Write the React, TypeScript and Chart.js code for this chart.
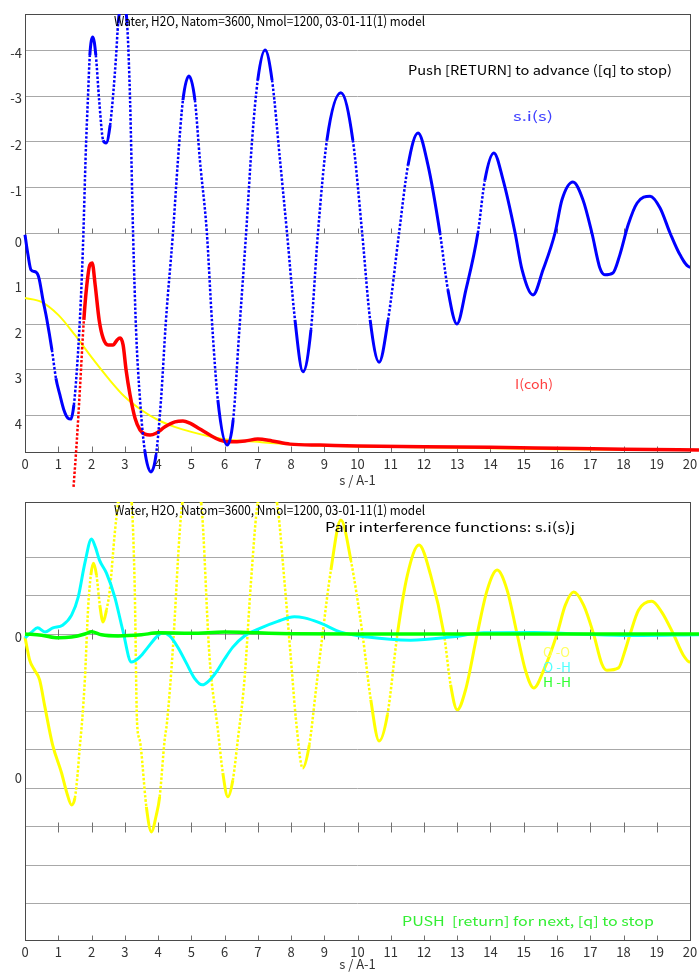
import React, { useEffect, useRef } from 'react';
import { Chart, registerables } from 'chart.js';

Chart.register(...registerables);

const FONT = '"Noto Sans CJK JP", "DejaVu Sans", sans-serif';

// ---------- top panel: s.i(s) and I(coh) ----------
const siS = [0, 0.09, 0.18, 0.33, 0.42, 0.54, 0.66, 0.81, 0.93, 1.05, 1.17, 1.29, 1.38, 1.47, 1.56, 1.65, 1.74, 1.83, 1.89, 1.95, 2.04, 2.13, 2.23, 2.35, 2.44, 2.56, 2.65, 2.74, 2.8, 2.93, 3.07, 3.16, 3.25, 3.34, 3.46, 3.6, 3.79, 3.94, 4.09, 4.24, 4.45, 4.6, 4.75, 4.93, 5.11, 5.26, 5.47, 5.62, 5.8, 6.08, 6.26, 6.44, 6.65, 6.83, 7.0, 7.22, 7.43, 7.67, 7.88, 8.12, 8.36, 8.6, 8.81, 9.08, 9.5, 9.86, 10.14, 10.38, 10.65, 10.92, 11.25, 11.52, 11.82, 12.12, 12.48, 12.72, 12.99, 13.26, 13.62, 13.83, 14.1, 14.38, 14.74, 14.95, 15.28, 15.58, 15.94, 16.15, 16.48, 16.78, 17.05, 17.29, 17.44, 17.68, 17.89, 18.14, 18.41, 18.8, 19.1, 19.4, 19.7, 20.0, 20.15, 20.27];
const siV = [-0.04, -0.48, -0.81, -0.86, -0.99, -1.47, -1.91, -2.57, -3.19, -3.56, -3.89, -4.07, -4.09, -3.78, -3.01, -1.91, -0.37, 1.82, 2.92, 3.91, 4.31, 3.91, 2.92, 2.04, 1.98, 2.37, 3.03, 3.9, 4.6, 5.1, 4.6, 2.92, 0, -2.13, -3.67, -4.77, -5.25, -4.88, -3.67, -1.91, 0, 1.6, 2.92, 3.45, 2.92, 1.6, 0, -1.91, -3.67, -4.66, -4.11, -2.2, 0, 2.04, 3.36, 4.02, 3.36, 1.6, 0, -1.91, -3.05, -2.13, 0, 2.04, 3.08, 2.04, 0, -1.91, -2.84, -1.91, 0, 1.49, 2.2, 1.49, 0, -1.25, -2.0, -1.25, 0, 1.16, 1.76, 1.16, 0, -0.81, -1.36, -0.81, 0, 0.73, 1.12, 0.73, 0, -0.77, -0.92, -0.88, -0.48, 0.18, 0.66, 0.81, 0.55, 0, -0.48, -0.75, -0.7, -0.44];

const cohS = [1.46, 1.56, 1.65, 1.77, 1.86, 1.95, 2.02, 2.11, 2.23, 2.35, 2.5, 2.65, 2.77, 2.86, 2.95, 3.04, 3.16, 3.31, 3.46, 3.61, 3.76, 3.94, 4.21, 4.51, 4.75, 4.96, 5.26, 5.56, 5.86, 6.17, 6.62, 7.0, 7.43, 7.97, 8.87, 10, 12, 14, 16, 18, 20.27];
const cohV = [-5.58, -4.55, -3.45, -1.91, -1.14, -0.7, -0.66, -1.14, -1.91, -2.31, -2.46, -2.46, -2.35, -2.31, -2.46, -3.01, -3.56, -4.07, -4.33, -4.42, -4.44, -4.4, -4.26, -4.15, -4.13, -4.18, -4.31, -4.44, -4.55, -4.59, -4.57, -4.53, -4.57, -4.64, -4.66, -4.68, -4.7, -4.71, -4.73, -4.75, -4.77];

const selfS = [0, 0.5, 1, 1.5, 2, 2.5, 3, 3.5, 4, 4.5, 5, 5.5, 6, 7, 8, 10, 12, 14, 16, 18, 20.27];
const selfV = [-1.43, -1.52, -1.8, -2.24, -2.73, -3.19, -3.6, -3.89, -4.11, -4.26, -4.37, -4.46, -4.53, -4.59, -4.64, -4.69, -4.71, -4.73, -4.75, -4.76, -4.77];

const topYTickValues = [-4, -3, -2, -1, 0, 1, 2, 3, 4];
const topYLabelValues = [4, 3, 2, 1, 0, -1, -2, -3, -4];
const topYLabels = ['-4', '-3', '-2', '-1', '0', '1', '2', '3', '4'];

// ---------- bottom panel: pair interference functions ----------
const ooS = [0, 0.14, 0.29, 0.44, 0.6, 0.83, 1.1, 1.25, 1.4, 1.5, 1.58, 1.64, 1.72, 1.8, 1.9, 1.98, 2.06, 2.15, 2.25, 2.35, 2.45, 2.55, 2.7, 2.8, 3.0, 3.21, 3.3, 3.37, 3.45, 3.65, 3.8, 3.95, 4.05, 4.2, 4.27, 4.45, 4.65, 4.73, 5.0, 5.3, 5.55, 5.8, 5.95, 6.1, 6.25, 6.4, 6.6, 6.8, 7.0, 7.3, 7.58, 7.8, 8.0, 8.15, 8.35, 8.55, 8.75, 8.95, 9.2, 9.5, 9.8, 10.15, 10.4, 10.65, 10.9, 11.2, 11.5, 11.85, 12.2, 12.6, 12.8, 13.0, 13.25, 13.6, 13.9, 14.2, 14.5, 14.8, 15.05, 15.3, 15.6, 16.0, 16.25, 16.5, 16.8, 17.1, 17.35, 17.5, 17.85, 18.05, 18.2, 18.45, 18.85, 19.15, 19.5, 19.8, 20.0, 20.15, 20.27];
const ooV = [-0.08, -0.68, -0.94, -1.19, -1.9, -2.88, -3.61, -4.1, -4.44, -4.26, -3.66, -3.01, -2.23, -1.19, 0.7, 1.53, 1.84, 1.53, 0.75, 0.31, 0.62, 1.14, 2.62, 3.4, 4.3, 3.4, 1.2, -2.3, -2.75, -4.49, -5.14, -4.7, -4.23, -2.75, -2.3, -0.34, 2.62, 3.4, 4.2, 3.4, -0.6, -2.49, -3.61, -4.23, -3.8, -2.75, -1.19, 1.4, 3.4, 3.9, 3.4, 1.4, -0.68, -2.23, -3.48, -2.88, -1.45, 0, 1.66, 2.96, 1.92, 0, -1.71, -2.78, -2.1, 0, 1.53, 2.31, 1.53, 0, -1.32, -1.97, -1.45, 0, 1.14, 1.66, 1.14, 0, -0.94, -1.4, -0.94, 0, 0.75, 1.09, 0.75, 0, -0.78, -0.94, -0.88, -0.42, 0, 0.62, 0.85, 0.57, 0, -0.55, -0.73, -0.68, -0.47];

const ohS = [0, 0.2, 0.38, 0.6, 0.84, 1.13, 1.4, 1.6, 1.8, 2.0, 2.12, 2.24, 2.45, 2.7, 2.94, 3.2, 3.45, 3.7, 3.95, 4.15, 4.35, 4.6, 4.85, 5.1, 5.33, 5.55, 5.75, 6.0, 6.25, 6.6, 7.1, 7.6, 8.1, 8.4, 8.87, 9.5, 10.3, 11.6, 12.8, 13.8, 15.3, 16.6, 18.3, 20.27];
const ohV = [-0.1, 0.05, 0.16, 0.05, 0.16, 0.23, 0.49, 0.96, 1.84, 2.47, 2.25, 1.92, 1.58, 0.96, 0.1, -0.73, -0.6, -0.34, -0.08, 0.03, -0.05, -0.35, -0.75, -1.15, -1.32, -1.2, -0.99, -0.65, -0.34, -0.05, 0.16, 0.33, 0.45, 0.42, 0.29, 0.05, -0.08, -0.16, -0.08, 0.03, 0.04, 0, -0.04, -0.02];

const hhS = [0, 0.5, 1.0, 1.4, 1.8, 2.0, 2.3, 2.8, 3.5, 4.0, 5.0, 6.0, 7.0, 8.0, 10, 20.27];
const hhV = [0, -0.03, -0.1, -0.08, 0, 0.06, -0.02, -0.05, -0.02, 0.03, 0.02, 0.05, 0.03, 0.01, 0, 0];

const botYTickValues = [-7, -6, -5, -4, -3, -2, -1, 0, 1, 2];
const botYLabelValues = [0, -4];
const botYLabels = ['0', '0'];

const S_MIN = 0;
const S_MAX = 20;

function lineSet(xs: number[], ys: number[], color: string, width: number, steepRatio: number) {
  const isSteep = (c: any) => Math.abs(c.p1.y - c.p0.y) > steepRatio * Math.abs(c.p1.x - c.p0.x);
  return {
    data: xs.map((x, i) => ({ x, y: ys[i] })),
    borderColor: color,
    backgroundColor: color,
    borderWidth: width,
    pointRadius: 0,
    fill: false,
    cubicInterpolationMode: 'monotone',
    clip: { left: false, top: 0, right: false, bottom: false },
    segment: {
      borderDash: (c: any) => (isSteep(c) ? [2.5, 1.8] : undefined),
      borderWidth: (c: any) => (isSteep(c) ? 2.5 : undefined),
    },
  };
}

function drawFit(ctx: CanvasRenderingContext2D, text: string, x: number, y: number, w: number, color: string, size = 13) {
  ctx.save();
  ctx.font = `${size}px ${FONT}`;
  const m = ctx.measureText(text).width;
  ctx.translate(x, y);
  ctx.scale(w / m, 1);
  ctx.fillStyle = color;
  ctx.textAlign = 'left';
  ctx.textBaseline = 'middle';
  ctx.fillText(text, 0, 0);
  ctx.restore();
}

const overlay = {
  id: 'overlay',
  beforeDatasetsDraw(chart: any, _args: any, opts: any) {
    const { ctx, chartArea: a, scales } = chart;
    const x = scales.x, y = scales.y;
    ctx.save();
    ctx.beginPath();
    ctx.strokeStyle = '#707070';
    ctx.lineWidth = 1;
    for (const tl of opts.tickLines) {
      const py = Math.round(y.getPixelForValue(tl.v)) + 0.5;
      for (let s = 1; s < 20; s++) {
        const px = Math.round(x.getPixelForValue(s)) + 0.5;
        ctx.moveTo(px, py - tl.up);
        ctx.lineTo(px, py + tl.down);
      }
    }
    ctx.stroke();
    ctx.strokeStyle = '#4a4a4a';
    ctx.strokeRect(Math.round(a.left) + 0.5, Math.round(a.top) + 0.5, Math.round(a.right - a.left), Math.round(a.bottom - a.top));
    ctx.restore();
  },
  afterDatasetsDraw(chart: any, _args: any, opts: any) {
    const { ctx, chartArea: a, scales } = chart;
    const y = scales.y;
    ctx.save();
    ctx.font = `13px ${FONT}`;
    ctx.fillStyle = '#333';
    ctx.textAlign = 'right';
    ctx.textBaseline = 'middle';
    opts.yLabels.forEach((t: string, i: number) => {
      ctx.fillText(t, a.left - 3, y.getPixelForValue(opts.yValues[i]) + opts.yOffsets[i]);
    });
    ctx.restore();
    for (const t of opts.texts) drawFit(ctx, t.t, t.x, t.y, t.w, t.c);
  },
};

function makeOptions(yMin: number, yMax: number, yTicks: number[], padTop: number, xHeight: number, titlePad: number, ov: any) {
  return {
    animation: false,
    responsive: false,
    maintainAspectRatio: false,
    layout: { padding: { top: padTop, right: 9, left: 0, bottom: 0 } },
    plugins: { legend: { display: false }, tooltip: { enabled: false }, overlay: ov },
    scales: {
      x: {
        type: 'linear',
        min: S_MIN,
        max: S_MAX,
        afterFit: (s: any) => { s.height = xHeight; },
        grid: { display: false },
        border: { display: false },
        ticks: { stepSize: 1, autoSkip: false, maxRotation: 0, padding: -4, color: '#333', font: { family: FONT, size: 13 } },
        title: { display: true, text: 's / A-1', color: '#333', font: { family: FONT, size: 13 }, padding: { top: 0, bottom: titlePad } },
      },
      y: {
        type: 'linear',
        min: yMin,
        max: yMax,
        afterFit: (s: any) => { s.width = 25; },
        afterBuildTicks: (s: any) => { s.ticks = yTicks.map((v) => ({ value: v })); },
        ticks: { display: false },
        grid: { color: '#a8a8a8', drawTicks: false, lineWidth: 1 },
        border: { display: false },
      },
    },
  };
}

export default function App() {
  const topRef = useRef<HTMLCanvasElement>(null);
  const botRef = useRef<HTMLCanvasElement>(null);

  useEffect(() => {
    const top = new Chart(topRef.current as HTMLCanvasElement, {
      type: 'line',
      data: {
        datasets: [
          lineSet(siS, siV, '#0000ff', 3, 7),
          lineSet(cohS, cohV, '#ff0000', 3.5, 12),
          lineSet(selfS, selfV, '#ffff00', 2, 12),
        ],
      },
      options: makeOptions(-4.813, 4.813, topYTickValues, 14, 43, 7, {
        tickLines: [{ v: 0, up: 5, down: 0 }, { v: -4.813, up: 6, down: 0 }],
        yLabels: topYLabels,
        yValues: topYLabelValues,
        yOffsets: [2, 2, 3, 4, 9, 9, 9, 9, 9],
        texts: [
          { t: 'Water, H2O, Natom=3600, Nmol=1200, 03-01-11(1) model', x: 114, y: 21, w: 311, c: '#000' },
          { t: 'Push [RETURN] to advance ([q] to stop)', x: 408, y: 70, w: 264, c: '#000' },
          { t: 's.i(s)', x: 513, y: 116, w: 40, c: '#4040ff' },
          { t: 'I(coh)', x: 515, y: 384, w: 38, c: '#ff4040' },
        ],
      }) as any,
      plugins: [overlay as any],
    } as any);

    const bot = new Chart(botRef.current as HTMLCanvasElement, {
      type: 'line',
      data: {
        datasets: [
          lineSet(hhS, hhV, '#00ff00', 3.5, 12),
          lineSet(ohS, ohV, '#00ffff', 3, 12),
          lineSet(ooS, ooV, '#ffff00', 3, 6),
        ],
      },
      options: makeOptions(-7.948, 3.429, botYTickValues, 7, 32, 0, {
        tickLines: [{ v: 0, up: 5, down: 5 }, { v: -5, up: 5, down: 5 }, { v: -7.948, up: 5, down: 0 }],
        yLabels: botYLabels,
        yValues: botYLabelValues,
        yOffsets: [3, -10],
        texts: [
          { t: 'Water, H2O, Natom=3600, Nmol=1200, 03-01-11(1) model', x: 114, y: 15, w: 311, c: '#000' },
          { t: 'Pair interference functions: s.i(s)j', x: 325, y: 32, w: 250, c: '#000' },
          { t: 'O -O', x: 543, y: 157, w: 27, c: '#ffff60' },
          { t: 'O -H', x: 543, y: 172, w: 28, c: '#50ffff' },
          { t: 'H -H', x: 543, y: 187, w: 28, c: '#30ff30' },
          { t: 'PUSH  [return] for next, [q] to stop', x: 402, y: 426, w: 252, c: '#33ee33' },
        ],
      }) as any,
      plugins: [overlay as any],
    } as any);

    return () => {
      top.destroy();
      bot.destroy();
    };
  }, []);

  return (
    <div style={{ position: 'absolute', left: 0, top: 0, width: 699, height: 972, background: '#fff', overflow: 'hidden' }}>
      <canvas ref={topRef} width={699} height={495} style={{ display: 'block', position: 'absolute', left: 0, top: 0 }} />
      <canvas ref={botRef} width={699} height={477} style={{ display: 'block', position: 'absolute', left: 0, top: 495 }} />
    </div>
  );
}
